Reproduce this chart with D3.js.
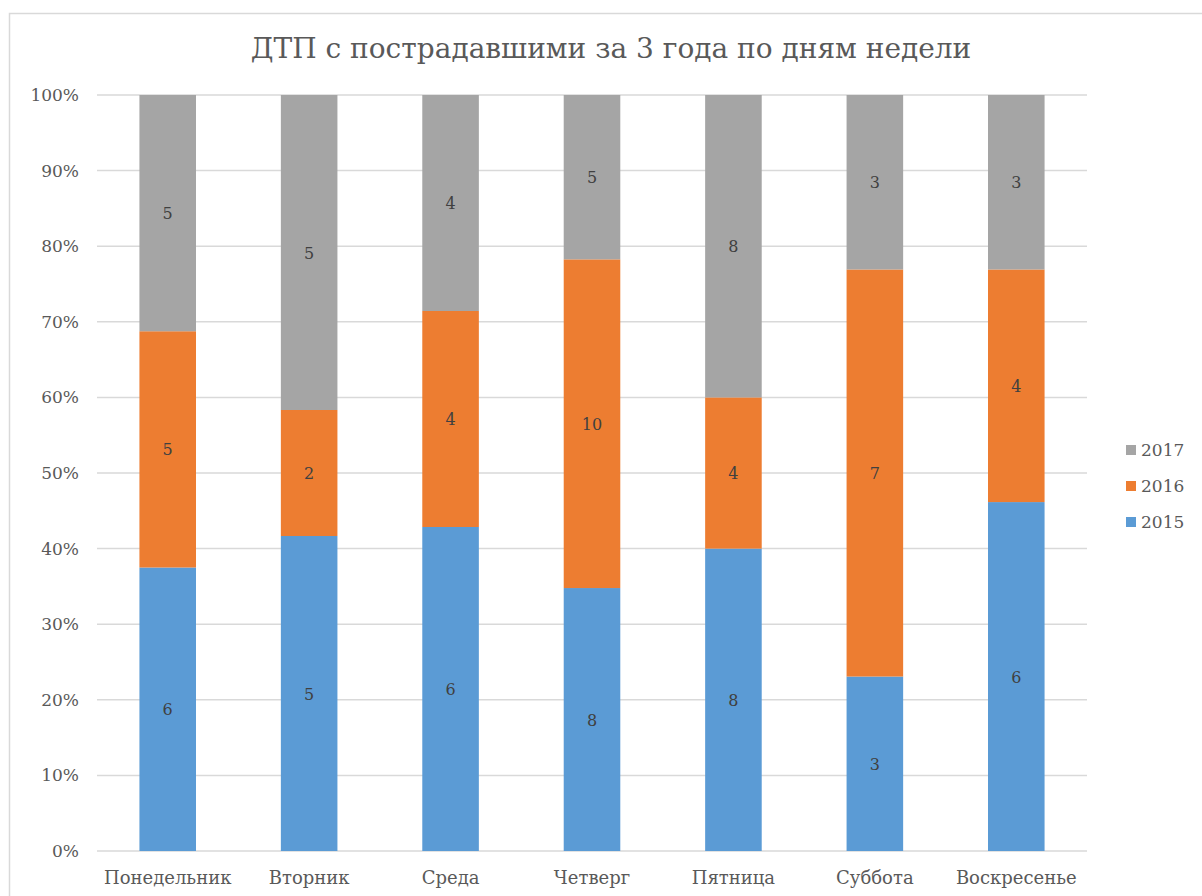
<!DOCTYPE html>
<html>
<head>
<meta charset="utf-8">
<script src="https://cdn.jsdelivr.net/npm/d3@7"></script>
<style>
  body { margin: 0; background: #fff; }
</style>
</head>
<body>
<svg id="chart"></svg>
<script>
var days = ["Понедельник", "Вторник", "Среда", "Четверг", "Пятница", "Суббота", "Воскресенье"]
var years = ["2015", "2016", "2017"]
var v2015 = [6, 5, 6, 8, 8, 3, 6]
var v2016 = [5, 2, 4, 10, 4, 7, 4]
var v2017 = [5, 5, 4, 5, 8, 3, 3]
var colors = ["#5b9bd5", "#ed7d31", "#a5a5a5"]
var yTicks = [0, 0.1, 0.2, 0.3, 0.4, 0.5, 0.6, 0.7, 0.8, 0.9, 1]

var width = 1202
var height = 896
var margin = {left: 97, right: 115, top: 95, bottom: 45}
var serif = "'DejaVu Serif', 'Liberation Serif', serif"

var svg = d3.select("#chart").attr("width", width).attr("height", height)
  .attr("font-family", serif)

// outer chart frame
svg.append("rect")
  .attr("x", 9.5).attr("y", 13.5)
  .attr("width", 1250).attr("height", 1000)
  .attr("fill", "none").attr("stroke", "#d9d9d9").attr("stroke-width", 1.5)

svg.append("text")
  .attr("x", 611).attr("y", 58)
  .attr("text-anchor", "middle")
  .attr("font-size", 28)
  .attr("fill", "#595959")
  .text("ДТП с пострадавшими за 3 года по дням недели")

var x = d3.scaleBand().domain(days)
  .range([margin.left, width - margin.right])
  .paddingInner(0.6).paddingOuter(0.3)

var y = d3.scaleLinear().domain([0, 1]).range([851, margin.top])

// gridlines
svg.append("g").selectAll("line")
  .data(yTicks).enter().append("line")
  .attr("x1", margin.left).attr("x2", width - margin.right)
  .attr("y1", d => y(d)).attr("y2", d => y(d))
  .attr("stroke", "#d9d9d9").attr("stroke-width", 1.5)

svg.append("g").selectAll("text")
  .data(yTicks).enter().append("text")
  .attr("x", 79).attr("y", d => y(d) + 6)
  .attr("text-anchor", "end")
  .attr("font-size", 17)
  .attr("fill", "#595959")
  .text(d => d3.format(".0%")(d))

// stacked 100% data
var rows = days.map((d, i) => ({day: d, "2015": v2015[i], "2016": v2016[i], "2017": v2017[i]}))
var series = d3.stack().keys(years).offset(d3.stackOffsetExpand)(rows)

var groups = svg.append("g").selectAll("g")
  .data(series).enter().append("g")
  .attr("fill", (d, i) => colors[i])

groups.selectAll("rect")
  .data(d => d).enter().append("rect")
  .attr("x", d => x(d.data.day))
  .attr("width", x.bandwidth())
  .attr("y", d => y(d[1]))
  .attr("height", d => y(d[0]) - y(d[1]))

groups.each(function(s) {
  d3.select(this).selectAll("text.val")
    .data(s).enter().append("text")
    .attr("class", "val")
    .attr("x", d => x(d.data.day) + x.bandwidth() / 2)
    .attr("y", d => (y(d[0]) + y(d[1])) / 2 + 6)
    .attr("text-anchor", "middle")
    .attr("font-size", 16)
    .attr("fill", "#404040")
    .text(d => d.data[s.key])
})

// category labels
svg.append("g").selectAll("text")
  .data(days).enter().append("text")
  .attr("x", d => x(d) + x.bandwidth() / 2)
  .attr("y", 884)
  .attr("text-anchor", "middle")
  .attr("font-size", 18)
  .attr("fill", "#595959")
  .text(d => d)

// legend, top-down 2017, 2016, 2015
var legendItems = years.slice().reverse()
var lg = svg.append("g").selectAll("g")
  .data(legendItems).enter().append("g")
  .attr("transform", (d, i) => "translate(1126," + (445 + i * 36) + ")")

lg.append("rect")
  .attr("width", 10).attr("height", 10)
  .attr("fill", d => colors[years.indexOf(d)])

lg.append("text")
  .attr("x", 15).attr("y", 11)
  .attr("font-size", 17)
  .attr("fill", "#595959")
  .text(d => d)
</script>
</body>
</html>
